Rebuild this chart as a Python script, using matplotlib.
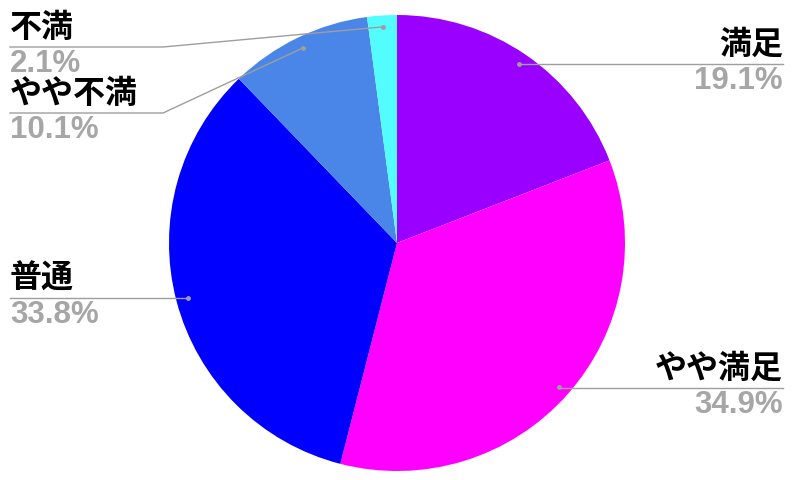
import numpy as np
import matplotlib
matplotlib.use("Agg")
import matplotlib.pyplot as plt

labels = ["満足", "やや満足", "普通", "やや不満", "不満"]
values = [19.1, 34.9, 33.8, 10.1, 2.1]
colors = ["#9900ff", "#ff00ff", "#0000ff", "#4a86e8", "#52fcff"]

W, H = 800, 480
fig = plt.figure(figsize=(8, 4.8), dpi=100)
ax = fig.add_axes([0, 0, 1, 1])

cx, cy, r = 397, H - 243, 228
ax.pie(values, colors=colors, startangle=90, counterclock=False,
       center=(cx, cy), radius=r, frame=True,
       wedgeprops=dict(linewidth=0))
ax.set_xlim(0, W)
ax.set_ylim(0, H)
ax.set_aspect("auto")
ax.axis("off")

# label layout: (side, line_y in px from top, text x)
layout = {
    "満足": ("right", 64, 783),
    "やや満足": ("right", 388, 783),
    "普通": ("left", 298, 10),
    "やや不満": ("left", 113, 10),
    "不満": ("left", 47, 10),
}
elbow_left = 163

total = sum(values)
cum = 0.0
line_col = "#9e9e9e"
for lab, v in zip(labels, values):
    mid = (cum + v / 2) / total * 360.0
    cum += v
    ang = np.deg2rad(90 - mid)
    dx = cx + 0.95 * r * np.cos(ang)
    dy = cy + 0.95 * r * np.sin(ang)
    side, ly, ex = layout[lab]
    yl = H - ly
    if side == "right":
        ax.plot([dx, ex], [yl, yl], color=line_col, lw=1.0)
        ha = "right"
    else:
        if abs(dy - yl) < 4:
            ax.plot([ex, dx], [yl, yl], color=line_col, lw=1.0)
        else:
            ax.plot([ex, elbow_left, dx], [yl, yl, dy], color=line_col, lw=1.0)
        ha = "left"
    ax.plot([dx], [dy], "o", color=line_col, ms=2.5)
    ax.text(ex, yl + 3, lab, ha=ha, va="bottom", fontsize=23, fontweight="bold",
            color="black", family=["Noto Sans CJK JP", "DejaVu Sans"])
    ax.text(ex, yl - 2, f"{v:.1f}%", ha=ha, va="top", fontsize=22.5, fontweight="bold",
            color="#a6a6a6", family=["Liberation Sans", "DejaVu Sans"])

fig.savefig("out.png", dpi=100)
